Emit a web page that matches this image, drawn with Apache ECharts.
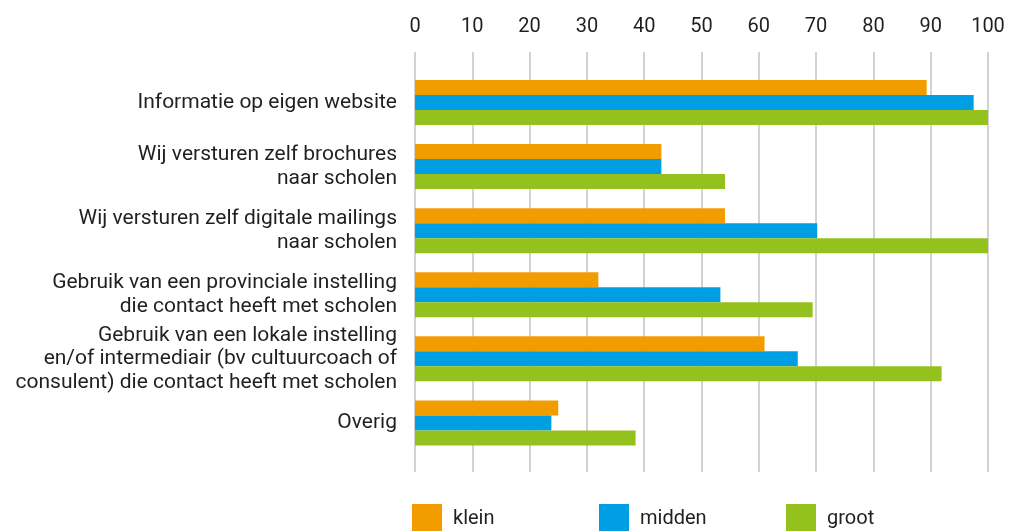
<!DOCTYPE html>
<html>
<head>
<meta charset="utf-8">
<script src="https://cdn.jsdelivr.net/npm/echarts@6/dist/echarts.min.js"></script>
<style>
html,body{margin:0;padding:0;background:#fff;}
#chart{width:1009px;height:531px;}
</style>
</head>
<body>
<div id="chart"></div>
<script>
const categories = [
  "Informatie op eigen website",
  "Wij versturen zelf brochures\nnaar scholen",
  "Wij versturen zelf digitale mailings\nnaar scholen",
  "Gebruik van een provinciale instelling\ndie contact heeft met scholen",
  "Gebruik van een lokale instelling\nen/of intermediair (bv cultuurcoach of\nconsulent) die contact heeft met scholen",
  "Overig"
];
const seriesNames = ["klein", "midden", "groot"];
const klein  = [89.3, 43.0, 54.1, 32.0, 61.0, 25.0];
const midden = [97.5, 43.0, 70.2, 53.3, 66.8, 23.8];
const groot  = [100, 54.1, 100, 69.4, 91.9, 38.5];
const xTicks = [0, 10, 20, 30, 40, 50, 60, 70, 80, 90, 100];

const colors = ["#F39C00", "#009FE3", "#95C11F"];
const FONT = "Roboto";
const TXT = "#231f20";

const chart = echarts.init(document.getElementById("chart"), null, {renderer: "canvas"});
const values = [klein, midden, groot];
const legendLefts = [412, 599, 786];

chart.setOption({
  animation: false,
  backgroundColor: "#ffffff",
  textStyle: {fontFamily: FONT},
  grid: [
    {left: 415, right: 21, top: 52, bottom: 59},
    {left: 415, right: 21, top: 70.4, height: 384.6}
  ],
  xAxis: [
    {
      gridIndex: 0, type: "value", position: "top",
      min: xTicks[0], max: xTicks[xTicks.length - 1], interval: 10,
      axisLine: {show: false}, axisTick: {show: false},
      splitLine: {show: true, lineStyle: {color: "#d2d2d2", width: 2}},
      axisLabel: {fontFamily: FONT, fontSize: 20, color: TXT, margin: 15}
    },
    {
      gridIndex: 1, type: "value", min: 0, max: 100, show: false
    }
  ],
  yAxis: [
    {gridIndex: 0, type: "value", show: false},
    {
      gridIndex: 1, type: "category", data: categories, inverse: true,
      axisLine: {show: false}, axisTick: {show: false}, splitLine: {show: false},
      axisLabel: {fontFamily: FONT, fontSize: 21, lineHeight: 23.5, color: TXT, margin: 18, align: "right", padding: [5, 0, 0, 0]}
    }
  ],
  legend: seriesNames.map((n, i) => ({
    data: [n],
    left: legendLefts[i], top: 504, padding: 0,
    itemWidth: 30, itemHeight: 30, icon: "rect",
    selectedMode: false,
    textStyle: {fontFamily: FONT, fontSize: 20, color: TXT, padding: [0, 0, 0, 6]}
  })),
  series: seriesNames.map((n, i) => ({
    name: n, type: "bar", xAxisIndex: 1, yAxisIndex: 1,
    data: values[i], barWidth: 15, barGap: "0%",
    itemStyle: {color: colors[i]}
  }))
});
</script>
</body>
</html>
